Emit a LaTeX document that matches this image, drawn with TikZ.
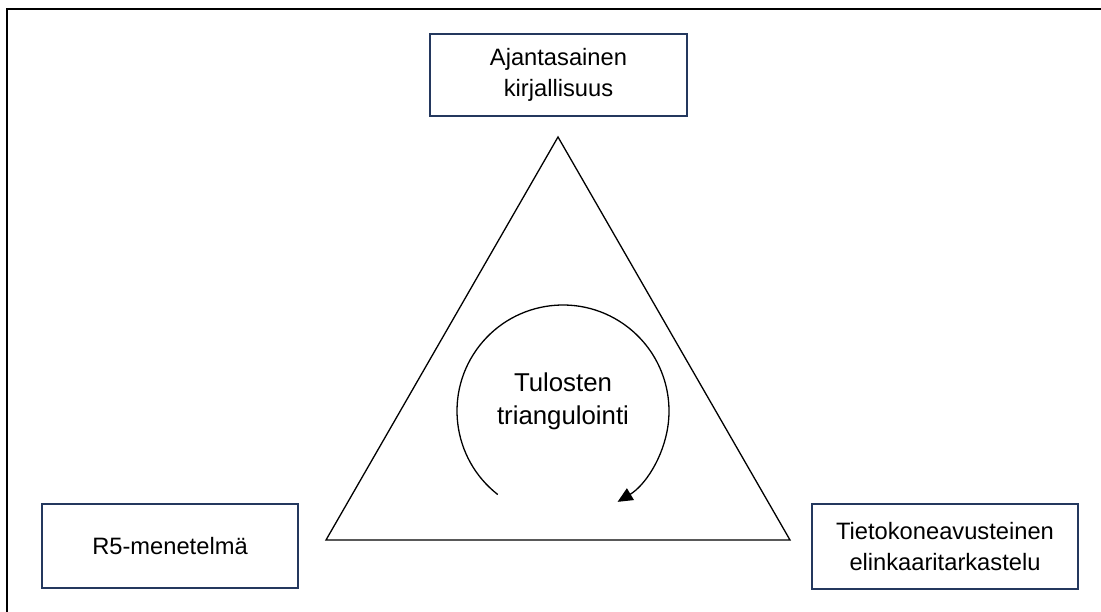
\documentclass[tikz,border=0pt]{standalone}
\usepackage{fontspec}
\setmainfont{Liberation Sans}
\usetikzlibrary{arrows.meta}
\definecolor{boxnavy}{RGB}{36,56,94}
\begin{document}
\begin{tikzpicture}[x=1pt,y=-1pt,
  infobox/.style={draw=boxnavy, line width=1.6pt, fill=white, align=center,
    inner sep=0pt, font=\fontsize{23.7}{31.5}\selectfont},
  edge/.style={draw=black, line width=1.3pt, line join=miter},
  cycle/.style={draw=black, line width=1.3pt}]
  \useasboundingbox (0,0) rectangle (1101,612);
  \clip (0,0) rectangle (1101,612);
  \fill[white] (0,0) rectangle (1101,612);

  % outer frame
  \draw[line width=2pt] (7,640) -- (7,9) -- (1130,9);

  % triangle corners
  \coordinate (apex) at (558,137);
  \coordinate (bl) at (326,540);
  \coordinate (br) at (790,540);
  \draw[edge] (apex) -- (bl) -- (br) -- cycle;

  % labelled boxes
  \node[infobox, minimum width=257pt, minimum height=82pt] (lit) at (558.5,75)
    {Ajantasainen\\kirjallisuus};
  \node[infobox, minimum width=256pt, minimum height=84pt] (r5) at (170,546)
    {R5-menetelmä};
  \node[infobox, minimum width=266pt, minimum height=85pt] (lca) at (945,546.5)
    {Tietokoneavusteinen\\elinkaaritarkastelu};

  % central cycle with label
  \coordinate (hub) at (563,411);
  \node[align=center, font=\fontsize{25.8}{33}\selectfont] (label) at (563,401)
    {Tulosten\\triangulointi};
  \draw[cycle, -{Triangle[length=15pt,width=13.5pt]}]
    ([shift={(128:106)}]hub) arc[start angle=128, end angle=419, radius=106];
\end{tikzpicture}
\end{document}
